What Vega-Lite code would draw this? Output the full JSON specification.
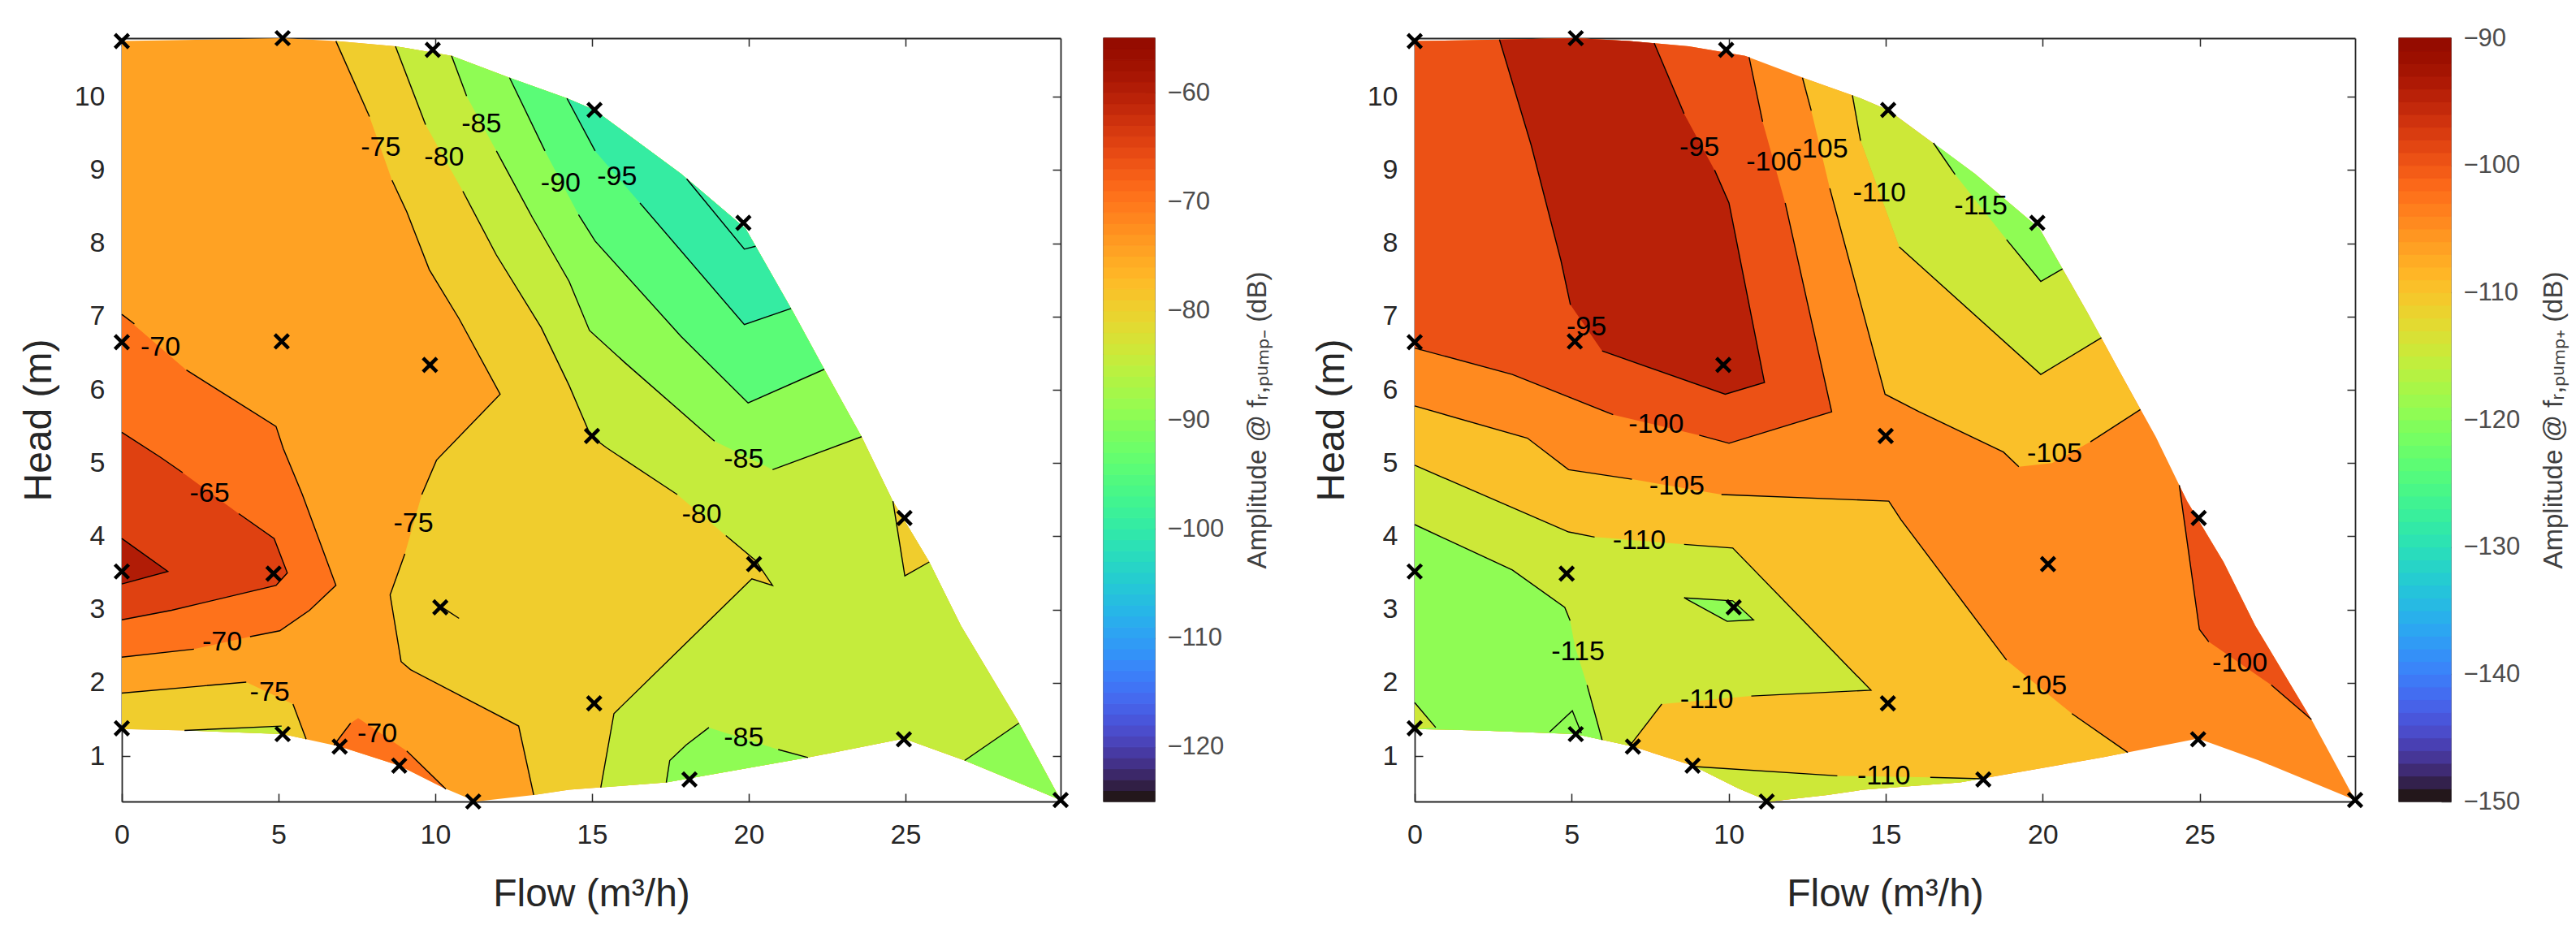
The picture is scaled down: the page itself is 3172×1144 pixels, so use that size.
{
"$schema": "https://vega.github.io/schema/vega-lite/v6.json",
"background": "white",
"padding": {"left": 24, "top": 29, "right": 5, "bottom": 5},
"config": {
  "view": {"stroke": null},
  "font": "Liberation Sans",
  "axis": {"grid": false, "domainColor": "#262626", "domainWidth": 1.8, "tickColor": "#262626", "tickWidth": 1.5, "tickSize": -10, "labelFont": "Liberation Sans", "labelFontSize": 34, "labelColor": "#262626", "labelFlush": false, "titleFont": "Liberation Sans", "titleFontSize": 48, "titleFontWeight": "normal", "titleColor": "#262626"}
},
"datasets": {
"pts": [
{"x":0,"y":10.76},{"x":5.13,"y":10.8},{"x":9.92,"y":10.64},{"x":15.08,"y":9.82},{"x":19.83,"y":8.28},{"x":0,"y":6.65},{"x":5.1,"y":6.66},{"x":9.83,"y":6.34},{"x":15.0,"y":5.37},{"x":20.17,"y":3.62},{"x":24.97,"y":4.25},{"x":0,"y":3.52},{"x":4.84,"y":3.49},{"x":10.16,"y":3.03},{"x":15.07,"y":1.72},{"x":0,"y":1.38},{"x":5.13,"y":1.3},{"x":6.95,"y":1.13},{"x":8.85,"y":0.87},{"x":11.21,"y":0.38},{"x":18.11,"y":0.68},{"x":24.95,"y":1.23},{"x":29.95,"y":0.4}
],
"Lf": [
{"g":"p00","i":0,"x":0,"y":1.37,"v":-75},{"g":"p00","i":1,"x":2.06,"y":1.35,"v":-75},{"g":"p00","i":2,"x":5.13,"y":1.3,"v":-75},{"g":"p00","i":3,"x":6.95,"y":1.13,"v":-75},{"g":"p00","i":4,"x":8.85,"y":0.87,"v":-75},{"g":"p00","i":5,"x":10.3,"y":0.56,"v":-75},{"g":"p00","i":6,"x":11.3,"y":0.38,"v":-75},{"g":"p00","i":7,"x":13.14,"y":0.47,"v":-75},{"g":"p00","i":8,"x":14.27,"y":0.54,"v":-75},{"g":"p00","i":9,"x":17.37,"y":0.64,"v":-75},{"g":"p00","i":10,"x":21.89,"y":0.98,"v":-75},{"g":"p00","i":11,"x":24.95,"y":1.24,"v":-75},{"g":"p00","i":12,"x":26.89,"y":0.94,"v":-75},{"g":"p00","i":13,"x":29.95,"y":0.4,"v":-75},{"g":"p00","i":14,"x":28.56,"y":1.5,"v":-75},{"g":"p00","i":15,"x":26.77,"y":2.78,"v":-75},{"g":"p00","i":16,"x":25.76,"y":3.65,"v":-75},{"g":"p00","i":17,"x":24.6,"y":4.48,"v":-75},{"g":"p00","i":18,"x":23.6,"y":5.36,"v":-75},{"g":"p00","i":19,"x":22.5,"y":6.21,"v":-75},{"g":"p00","i":20,"x":21.42,"y":7.06,"v":-75},{"g":"p00","i":21,"x":19.9,"y":8.2,"v":-75},{"g":"p00","i":22,"x":17.84,"y":8.95,"v":-75},{"g":"p00","i":23,"x":15.08,"y":9.82,"v":-75},{"g":"p00","i":24,"x":14.2,"y":9.98,"v":-75},{"g":"p00","i":25,"x":12.37,"y":10.26,"v":-75},{"g":"p00","i":26,"x":10.52,"y":10.56,"v":-75},{"g":"p00","i":27,"x":8.73,"y":10.69,"v":-75},{"g":"p00","i":28,"x":6.83,"y":10.76,"v":-75},{"g":"p00","i":29,"x":5.13,"y":10.8,"v":-75},{"g":"p00","i":30,"x":0,"y":10.76,"v":-75},
{"g":"p01","i":0,"x":6.83,"y":10.76,"v":-80},{"g":"p01","i":1,"x":7.9,"y":9.73,"v":-80},{"g":"p01","i":2,"x":8.62,"y":8.86,"v":-80},{"g":"p01","i":3,"x":9.09,"y":8.43,"v":-80},{"g":"p01","i":4,"x":9.81,"y":7.64,"v":-80},{"g":"p01","i":5,"x":10.76,"y":6.97,"v":-80},{"g":"p01","i":6,"x":12.07,"y":5.94,"v":-80},{"g":"p01","i":7,"x":10.04,"y":5.04,"v":-80},{"g":"p01","i":8,"x":9.57,"y":4.57,"v":-80},{"g":"p01","i":9,"x":9.03,"y":3.76,"v":-80},{"g":"p01","i":10,"x":8.56,"y":3.2,"v":-80},{"g":"p01","i":11,"x":8.91,"y":2.29,"v":-80},{"g":"p01","i":12,"x":9.21,"y":2.18,"v":-80},{"g":"p01","i":13,"x":12.66,"y":1.41,"v":-80},{"g":"p01","i":14,"x":13.14,"y":0.47,"v":-80},{"g":"p01","i":15,"x":14.27,"y":0.54,"v":-80},{"g":"p01","i":16,"x":17.37,"y":0.64,"v":-80},{"g":"p01","i":17,"x":21.89,"y":0.98,"v":-80},{"g":"p01","i":18,"x":24.95,"y":1.24,"v":-80},{"g":"p01","i":19,"x":26.89,"y":0.94,"v":-80},{"g":"p01","i":20,"x":29.95,"y":0.4,"v":-80},{"g":"p01","i":21,"x":28.56,"y":1.5,"v":-80},{"g":"p01","i":22,"x":26.77,"y":2.78,"v":-80},{"g":"p01","i":23,"x":25.76,"y":3.65,"v":-80},{"g":"p01","i":24,"x":24.6,"y":4.48,"v":-80},{"g":"p01","i":25,"x":23.6,"y":5.36,"v":-80},{"g":"p01","i":26,"x":22.5,"y":6.21,"v":-80},{"g":"p01","i":27,"x":21.42,"y":7.06,"v":-80},{"g":"p01","i":28,"x":19.9,"y":8.2,"v":-80},{"g":"p01","i":29,"x":17.84,"y":8.95,"v":-80},{"g":"p01","i":30,"x":15.08,"y":9.82,"v":-80},{"g":"p01","i":31,"x":14.2,"y":9.98,"v":-80},{"g":"p01","i":32,"x":12.37,"y":10.26,"v":-80},{"g":"p01","i":33,"x":10.52,"y":10.56,"v":-80},{"g":"p01","i":34,"x":8.73,"y":10.69,"v":-80},
{"g":"p02","i":0,"x":8.73,"y":10.69,"v":-85},{"g":"p02","i":1,"x":9.69,"y":9.62,"v":-85},{"g":"p02","i":2,"x":10.88,"y":8.71,"v":-85},{"g":"p02","i":3,"x":11.95,"y":7.84,"v":-85},{"g":"p02","i":4,"x":13.38,"y":6.85,"v":-85},{"g":"p02","i":5,"x":14.27,"y":6.06,"v":-85},{"g":"p02","i":6,"x":14.96,"y":5.37,"v":-85},{"g":"p02","i":7,"x":15.46,"y":5.21,"v":-85},{"g":"p02","i":8,"x":17.72,"y":4.57,"v":-85},{"g":"p02","i":9,"x":19.27,"y":4.01,"v":-85},{"g":"p02","i":10,"x":20.22,"y":3.67,"v":-85},{"g":"p02","i":11,"x":20.76,"y":3.33,"v":-85},{"g":"p02","i":12,"x":20.1,"y":3.42,"v":-85},{"g":"p02","i":13,"x":15.7,"y":1.58,"v":-85},{"g":"p02","i":14,"x":15.28,"y":0.57,"v":-85},{"g":"p02","i":15,"x":17.37,"y":0.64,"v":-85},{"g":"p02","i":16,"x":21.89,"y":0.98,"v":-85},{"g":"p02","i":17,"x":24.95,"y":1.24,"v":-85},{"g":"p02","i":18,"x":26.89,"y":0.94,"v":-85},{"g":"p02","i":19,"x":29.95,"y":0.4,"v":-85},{"g":"p02","i":20,"x":28.56,"y":1.5,"v":-85},{"g":"p02","i":21,"x":26.77,"y":2.78,"v":-85},{"g":"p02","i":22,"x":25.76,"y":3.65,"v":-85},{"g":"p02","i":23,"x":24.6,"y":4.48,"v":-85},{"g":"p02","i":24,"x":23.6,"y":5.36,"v":-85},{"g":"p02","i":25,"x":22.5,"y":6.21,"v":-85},{"g":"p02","i":26,"x":21.42,"y":7.06,"v":-85},{"g":"p02","i":27,"x":19.9,"y":8.2,"v":-85},{"g":"p02","i":28,"x":17.84,"y":8.95,"v":-85},{"g":"p02","i":29,"x":15.08,"y":9.82,"v":-85},{"g":"p02","i":30,"x":14.2,"y":9.98,"v":-85},{"g":"p02","i":31,"x":12.37,"y":10.26,"v":-85},{"g":"p02","i":32,"x":10.52,"y":10.56,"v":-85},
{"g":"p03","i":0,"x":24.6,"y":4.48,"v":-80},{"g":"p03","i":1,"x":24.98,"y":3.46,"v":-80},{"g":"p03","i":2,"x":25.76,"y":3.65,"v":-80},
{"g":"p04","i":0,"x":10.52,"y":10.56,"v":-90},{"g":"p04","i":1,"x":11.0,"y":10.01,"v":-90},{"g":"p04","i":2,"x":11.95,"y":9.26,"v":-90},{"g":"p04","i":3,"x":13.1,"y":8.35,"v":-90},{"g":"p04","i":4,"x":14.27,"y":7.48,"v":-90},{"g":"p04","i":5,"x":14.92,"y":6.81,"v":-90},{"g":"p04","i":6,"x":16.05,"y":6.37,"v":-90},{"g":"p04","i":7,"x":18.91,"y":5.3,"v":-90},{"g":"p04","i":8,"x":20.76,"y":4.91,"v":-90},{"g":"p04","i":9,"x":23.6,"y":5.36,"v":-90},{"g":"p04","i":10,"x":22.5,"y":6.21,"v":-90},{"g":"p04","i":11,"x":21.42,"y":7.06,"v":-90},{"g":"p04","i":12,"x":19.9,"y":8.2,"v":-90},{"g":"p04","i":13,"x":17.84,"y":8.95,"v":-90},{"g":"p04","i":14,"x":15.08,"y":9.82,"v":-90},{"g":"p04","i":15,"x":14.2,"y":9.98,"v":-90},{"g":"p04","i":16,"x":12.37,"y":10.26,"v":-90},
{"g":"p05","i":0,"x":12.37,"y":10.26,"v":-95},{"g":"p05","i":1,"x":13.5,"y":9.26,"v":-95},{"g":"p05","i":2,"x":14.57,"y":8.39,"v":-95},{"g":"p05","i":3,"x":15.1,"y":8.03,"v":-95},{"g":"p05","i":4,"x":17.84,"y":6.73,"v":-95},{"g":"p05","i":5,"x":19.98,"y":5.82,"v":-95},{"g":"p05","i":6,"x":22.41,"y":6.28,"v":-95},{"g":"p05","i":7,"x":21.42,"y":7.06,"v":-95},{"g":"p05","i":8,"x":19.9,"y":8.2,"v":-95},{"g":"p05","i":9,"x":17.84,"y":8.95,"v":-95},{"g":"p05","i":10,"x":15.08,"y":9.82,"v":-95},{"g":"p05","i":11,"x":14.2,"y":9.98,"v":-95},
{"g":"p06","i":0,"x":14.2,"y":9.98,"v":-100},{"g":"p06","i":1,"x":15.1,"y":9.26,"v":-100},{"g":"p06","i":2,"x":16.53,"y":8.55,"v":-100},{"g":"p06","i":3,"x":19.86,"y":6.89,"v":-100},{"g":"p06","i":4,"x":21.35,"y":7.11,"v":-100},{"g":"p06","i":5,"x":19.9,"y":8.2,"v":-100},{"g":"p06","i":6,"x":17.84,"y":8.95,"v":-100},{"g":"p06","i":7,"x":15.08,"y":9.82,"v":-100},
{"g":"p07","i":0,"x":17.37,"y":0.64,"v":-90},{"g":"p07","i":1,"x":17.48,"y":0.94,"v":-90},{"g":"p07","i":2,"x":18.0,"y":1.15,"v":-90},{"g":"p07","i":3,"x":18.73,"y":1.39,"v":-90},{"g":"p07","i":4,"x":20.94,"y":1.09,"v":-90},{"g":"p07","i":5,"x":21.89,"y":0.98,"v":-90},
{"g":"p08","i":0,"x":26.89,"y":0.94,"v":-90},{"g":"p08","i":1,"x":28.62,"y":1.45,"v":-90},{"g":"p08","i":2,"x":29.95,"y":0.4,"v":-90},
{"g":"p09","i":0,"x":0,"y":7.03,"v":-70},{"g":"p09","i":1,"x":2.06,"y":6.27,"v":-70},{"g":"p09","i":2,"x":4.92,"y":5.5,"v":-70},{"g":"p09","i":3,"x":5.15,"y":5.2,"v":-70},{"g":"p09","i":4,"x":5.76,"y":4.57,"v":-70},{"g":"p09","i":5,"x":6.83,"y":3.33,"v":-70},{"g":"p09","i":6,"x":5.99,"y":2.99,"v":-70},{"g":"p09","i":7,"x":5.04,"y":2.71,"v":-70},{"g":"p09","i":8,"x":4.09,"y":2.63,"v":-70},{"g":"p09","i":9,"x":2.3,"y":2.46,"v":-70},{"g":"p09","i":10,"x":0,"y":2.35,"v":-70},
{"g":"p10","i":0,"x":0,"y":5.42,"v":-65},{"g":"p10","i":1,"x":1.23,"y":5.08,"v":-65},{"g":"p10","i":2,"x":1.94,"y":4.87,"v":-65},{"g":"p10","i":3,"x":3.73,"y":4.31,"v":-65},{"g":"p10","i":4,"x":4.86,"y":3.97,"v":-65},{"g":"p10","i":5,"x":5.28,"y":3.5,"v":-65},{"g":"p10","i":6,"x":4.92,"y":3.33,"v":-65},{"g":"p10","i":7,"x":1.59,"y":2.99,"v":-65},{"g":"p10","i":8,"x":0,"y":2.86,"v":-65},
{"g":"p11","i":0,"x":0,"y":3.97,"v":-60},{"g":"p11","i":1,"x":1.47,"y":3.52,"v":-60},{"g":"p11","i":2,"x":0,"y":3.35,"v":-60},
{"g":"p12","i":0,"x":0,"y":1.86,"v":-80},{"g":"p12","i":1,"x":3.97,"y":2.01,"v":-80},{"g":"p12","i":2,"x":5.46,"y":1.71,"v":-80},{"g":"p12","i":3,"x":5.88,"y":1.23,"v":-80},{"g":"p12","i":4,"x":5.13,"y":1.3,"v":-80},{"g":"p12","i":5,"x":2.06,"y":1.35,"v":-80},{"g":"p12","i":6,"x":0,"y":1.37,"v":-80},
{"g":"p13","i":0,"x":6.77,"y":1.15,"v":-70},{"g":"p13","i":1,"x":7.3,"y":1.45,"v":-70},{"g":"p13","i":2,"x":7.54,"y":1.52,"v":-70},{"g":"p13","i":3,"x":9.09,"y":1.07,"v":-70},{"g":"p13","i":4,"x":10.34,"y":0.55,"v":-70},{"g":"p13","i":5,"x":8.85,"y":0.87,"v":-70},{"g":"p13","i":6,"x":6.95,"y":1.13,"v":-70},
{"g":"p14","i":0,"x":2.0,"y":1.35,"v":-85},{"g":"p14","i":1,"x":5.1,"y":1.41,"v":-85},{"g":"p14","i":2,"x":5.13,"y":1.3,"v":-85}
],
"Ll": [
{"g":"l01","i":0,"x":6.83,"y":10.76},{"g":"l01","i":1,"x":7.9,"y":9.73},
{"g":"l02","i":0,"x":8.62,"y":8.86},{"g":"l02","i":1,"x":9.09,"y":8.43},{"g":"l02","i":2,"x":9.81,"y":7.64},{"g":"l02","i":3,"x":10.76,"y":6.97},{"g":"l02","i":4,"x":12.07,"y":5.94},{"g":"l02","i":5,"x":10.04,"y":5.04},{"g":"l02","i":6,"x":9.57,"y":4.57},
{"g":"l03","i":0,"x":9.03,"y":3.76},{"g":"l03","i":1,"x":8.56,"y":3.2},{"g":"l03","i":2,"x":8.91,"y":2.29},{"g":"l03","i":3,"x":9.21,"y":2.18},{"g":"l03","i":4,"x":12.66,"y":1.41},{"g":"l03","i":5,"x":13.14,"y":0.47},
{"g":"l04","i":0,"x":8.73,"y":10.69},{"g":"l04","i":1,"x":9.69,"y":9.62},
{"g":"l05","i":0,"x":10.88,"y":8.71},{"g":"l05","i":1,"x":11.95,"y":7.84},{"g":"l05","i":2,"x":13.38,"y":6.85},{"g":"l05","i":3,"x":14.27,"y":6.06},{"g":"l05","i":4,"x":14.96,"y":5.37},{"g":"l05","i":5,"x":15.46,"y":5.21},{"g":"l05","i":6,"x":17.72,"y":4.57},
{"g":"l06","i":0,"x":19.27,"y":4.01},{"g":"l06","i":1,"x":20.22,"y":3.67},{"g":"l06","i":2,"x":20.76,"y":3.33},{"g":"l06","i":3,"x":20.1,"y":3.42},{"g":"l06","i":4,"x":15.7,"y":1.58},{"g":"l06","i":5,"x":15.28,"y":0.57},
{"g":"l07","i":0,"x":10.52,"y":10.56},{"g":"l07","i":1,"x":11.0,"y":10.01},
{"g":"l08","i":0,"x":11.95,"y":9.26},{"g":"l08","i":1,"x":13.1,"y":8.35},{"g":"l08","i":2,"x":14.27,"y":7.48},{"g":"l08","i":3,"x":14.92,"y":6.81},{"g":"l08","i":4,"x":16.05,"y":6.37},{"g":"l08","i":5,"x":18.91,"y":5.3},
{"g":"l09","i":0,"x":20.76,"y":4.91},{"g":"l09","i":1,"x":23.6,"y":5.36},
{"g":"l10","i":0,"x":12.37,"y":10.26},{"g":"l10","i":1,"x":13.5,"y":9.26},
{"g":"l11","i":0,"x":14.57,"y":8.39},{"g":"l11","i":1,"x":15.1,"y":8.03},{"g":"l11","i":2,"x":17.84,"y":6.73},{"g":"l11","i":3,"x":19.98,"y":5.82},{"g":"l11","i":4,"x":22.41,"y":6.28},
{"g":"l12","i":0,"x":14.2,"y":9.98},{"g":"l12","i":1,"x":15.1,"y":9.26},
{"g":"l13","i":0,"x":16.53,"y":8.55},{"g":"l13","i":1,"x":19.86,"y":6.89},{"g":"l13","i":2,"x":21.35,"y":7.11},
{"g":"l14","i":0,"x":18.02,"y":8.88},{"g":"l14","i":1,"x":19.86,"y":7.92},{"g":"l14","i":2,"x":20.22,"y":7.96},
{"g":"l15","i":0,"x":0,"y":7.03},{"g":"l15","i":1,"x":0.4,"y":6.9},
{"g":"l16","i":0,"x":2.06,"y":6.27},{"g":"l16","i":1,"x":4.92,"y":5.5},{"g":"l16","i":2,"x":5.15,"y":5.2},{"g":"l16","i":3,"x":5.76,"y":4.57},{"g":"l16","i":4,"x":6.83,"y":3.33},{"g":"l16","i":5,"x":5.99,"y":2.99},{"g":"l16","i":6,"x":5.04,"y":2.71},{"g":"l16","i":7,"x":4.09,"y":2.63},
{"g":"l17","i":0,"x":2.3,"y":2.46},{"g":"l17","i":1,"x":0,"y":2.35},
{"g":"l18","i":0,"x":0,"y":5.42},{"g":"l18","i":1,"x":1.23,"y":5.08},{"g":"l18","i":2,"x":1.94,"y":4.87},
{"g":"l19","i":0,"x":3.73,"y":4.31},{"g":"l19","i":1,"x":4.86,"y":3.97},{"g":"l19","i":2,"x":5.28,"y":3.5},{"g":"l19","i":3,"x":4.92,"y":3.33},{"g":"l19","i":4,"x":1.59,"y":2.99},{"g":"l19","i":5,"x":0,"y":2.86},
{"g":"l20","i":0,"x":0,"y":3.97},{"g":"l20","i":1,"x":1.47,"y":3.52},{"g":"l20","i":2,"x":0,"y":3.35},
{"g":"l21","i":0,"x":0,"y":1.86},{"g":"l21","i":1,"x":3.97,"y":2.01},
{"g":"l22","i":0,"x":5.46,"y":1.71},{"g":"l22","i":1,"x":5.88,"y":1.23},
{"g":"l23","i":0,"x":6.77,"y":1.15},{"g":"l23","i":1,"x":7.3,"y":1.45},
{"g":"l24","i":0,"x":9.09,"y":1.07},{"g":"l24","i":1,"x":10.34,"y":0.55},
{"g":"l25","i":0,"x":2.0,"y":1.35},{"g":"l25","i":1,"x":5.1,"y":1.41},
{"g":"l26","i":0,"x":24.6,"y":4.48},{"g":"l26","i":1,"x":24.98,"y":3.46},{"g":"l26","i":2,"x":25.76,"y":3.65},
{"g":"l27","i":0,"x":17.37,"y":0.64},{"g":"l27","i":1,"x":17.48,"y":0.94},{"g":"l27","i":2,"x":18.0,"y":1.15},{"g":"l27","i":3,"x":18.73,"y":1.39},
{"g":"l28","i":0,"x":20.94,"y":1.09},{"g":"l28","i":1,"x":21.89,"y":0.98},
{"g":"l29","i":0,"x":26.89,"y":0.94},{"g":"l29","i":1,"x":28.62,"y":1.45},
{"g":"l30","i":0,"x":10.22,"y":3.03},{"g":"l30","i":1,"x":10.76,"y":2.88}
],
"Lt": [
{"t":"-75","x":8.26,"y":9.3},{"t":"-80","x":10.28,"y":9.17},{"t":"-85","x":11.47,"y":9.63},{"t":"-90","x":14.0,"y":8.82},{"t":"-95","x":15.8,"y":8.9},{"t":"-70","x":1.23,"y":6.58},{"t":"-65","x":2.8,"y":4.58},{"t":"-70","x":3.2,"y":2.55},{"t":"-75","x":4.72,"y":1.86},{"t":"-75","x":9.3,"y":4.17},{"t":"-70","x":8.15,"y":1.3},{"t":"-80","x":18.5,"y":4.29},{"t":"-85","x":19.84,"y":5.05},{"t":"-85","x":19.84,"y":1.24}
],
"Rf": [
{"g":"q00","i":0,"x":0,"y":1.37,"v":-105},{"g":"q00","i":1,"x":2.06,"y":1.35,"v":-105},{"g":"q00","i":2,"x":5.13,"y":1.3,"v":-105},{"g":"q00","i":3,"x":6.95,"y":1.13,"v":-105},{"g":"q00","i":4,"x":8.85,"y":0.87,"v":-105},{"g":"q00","i":5,"x":10.3,"y":0.56,"v":-105},{"g":"q00","i":6,"x":11.3,"y":0.38,"v":-105},{"g":"q00","i":7,"x":13.14,"y":0.47,"v":-105},{"g":"q00","i":8,"x":14.27,"y":0.54,"v":-105},{"g":"q00","i":9,"x":17.37,"y":0.64,"v":-105},{"g":"q00","i":10,"x":21.89,"y":0.98,"v":-105},{"g":"q00","i":11,"x":24.95,"y":1.24,"v":-105},{"g":"q00","i":12,"x":26.89,"y":0.94,"v":-105},{"g":"q00","i":13,"x":29.95,"y":0.4,"v":-105},{"g":"q00","i":14,"x":28.56,"y":1.5,"v":-105},{"g":"q00","i":15,"x":26.77,"y":2.78,"v":-105},{"g":"q00","i":16,"x":25.76,"y":3.65,"v":-105},{"g":"q00","i":17,"x":24.6,"y":4.48,"v":-105},{"g":"q00","i":18,"x":23.6,"y":5.36,"v":-105},{"g":"q00","i":19,"x":22.5,"y":6.21,"v":-105},{"g":"q00","i":20,"x":21.42,"y":7.06,"v":-105},{"g":"q00","i":21,"x":19.9,"y":8.2,"v":-105},{"g":"q00","i":22,"x":17.84,"y":8.95,"v":-105},{"g":"q00","i":23,"x":15.08,"y":9.82,"v":-105},{"g":"q00","i":24,"x":14.2,"y":9.98,"v":-105},{"g":"q00","i":25,"x":12.37,"y":10.26,"v":-105},{"g":"q00","i":26,"x":10.52,"y":10.56,"v":-105},{"g":"q00","i":27,"x":8.73,"y":10.69,"v":-105},{"g":"q00","i":28,"x":6.83,"y":10.76,"v":-105},{"g":"q00","i":29,"x":5.13,"y":10.8,"v":-105},{"g":"q00","i":30,"x":0,"y":10.76,"v":-105},
{"g":"q01","i":0,"x":10.65,"y":10.54,"v":-100},{"g":"q01","i":1,"x":11.08,"y":9.66,"v":-100},{"g":"q01","i":2,"x":11.8,"y":8.55,"v":-100},{"g":"q01","i":3,"x":13.28,"y":5.7,"v":-100},{"g":"q01","i":4,"x":10.01,"y":5.27,"v":-100},{"g":"q01","i":5,"x":9.06,"y":5.38,"v":-100},{"g":"q01","i":6,"x":6.32,"y":5.66,"v":-100},{"g":"q01","i":7,"x":3.11,"y":6.21,"v":-100},{"g":"q01","i":8,"x":0,"y":6.57,"v":-100},{"g":"q01","i":9,"x":0,"y":10.76,"v":-100},{"g":"q01","i":10,"x":5.13,"y":10.8,"v":-100},{"g":"q01","i":11,"x":6.83,"y":10.76,"v":-100},{"g":"q01","i":12,"x":8.73,"y":10.69,"v":-100},{"g":"q01","i":13,"x":10.52,"y":10.56,"v":-100},
{"g":"q02","i":0,"x":2.7,"y":10.78,"v":-95},{"g":"q02","i":1,"x":3.71,"y":9.34,"v":-95},{"g":"q02","i":2,"x":4.66,"y":7.76,"v":-95},{"g":"q02","i":3,"x":4.96,"y":7.16,"v":-95},{"g":"q02","i":4,"x":5.97,"y":6.53,"v":-95},{"g":"q02","i":5,"x":9.89,"y":5.94,"v":-95},{"g":"q02","i":6,"x":11.14,"y":6.1,"v":-95},{"g":"q02","i":7,"x":10.01,"y":8.55,"v":-95},{"g":"q02","i":8,"x":9.55,"y":9.0,"v":-95},{"g":"q02","i":9,"x":8.58,"y":9.77,"v":-95},{"g":"q02","i":10,"x":7.63,"y":10.73,"v":-95},{"g":"q02","i":11,"x":6.83,"y":10.76,"v":-95},{"g":"q02","i":12,"x":5.13,"y":10.8,"v":-95},
{"g":"q03","i":0,"x":24.35,"y":4.7,"v":-100},{"g":"q03","i":1,"x":24.99,"y":2.73,"v":-100},{"g":"q03","i":2,"x":25.29,"y":2.56,"v":-100},{"g":"q03","i":3,"x":27.28,"y":1.97,"v":-100},{"g":"q03","i":4,"x":28.56,"y":1.5,"v":-100},{"g":"q03","i":5,"x":26.77,"y":2.78,"v":-100},{"g":"q03","i":6,"x":25.76,"y":3.65,"v":-100},{"g":"q03","i":7,"x":24.6,"y":4.48,"v":-100},
{"g":"q04","i":0,"x":0,"y":5.78,"v":-110},{"g":"q04","i":1,"x":3.59,"y":5.34,"v":-110},{"g":"q04","i":2,"x":4.9,"y":4.91,"v":-110},{"g":"q04","i":3,"x":6.92,"y":4.78,"v":-110},{"g":"q04","i":4,"x":9.77,"y":4.57,"v":-110},{"g":"q04","i":5,"x":15.1,"y":4.48,"v":-110},{"g":"q04","i":6,"x":15.48,"y":4.23,"v":-110},{"g":"q04","i":7,"x":18.85,"y":2.31,"v":-110},{"g":"q04","i":8,"x":20.93,"y":1.58,"v":-110},{"g":"q04","i":9,"x":22.71,"y":1.05,"v":-110},{"g":"q04","i":10,"x":21.89,"y":0.98,"v":-110},{"g":"q04","i":11,"x":17.37,"y":0.64,"v":-110},{"g":"q04","i":12,"x":14.27,"y":0.54,"v":-110},{"g":"q04","i":13,"x":13.14,"y":0.47,"v":-110},{"g":"q04","i":14,"x":11.3,"y":0.38,"v":-110},{"g":"q04","i":15,"x":10.3,"y":0.56,"v":-110},{"g":"q04","i":16,"x":8.85,"y":0.87,"v":-110},{"g":"q04","i":17,"x":6.95,"y":1.13,"v":-110},{"g":"q04","i":18,"x":5.13,"y":1.3,"v":-110},{"g":"q04","i":19,"x":2.06,"y":1.35,"v":-110},{"g":"q04","i":20,"x":0,"y":1.37,"v":-110},
{"g":"q05","i":0,"x":0,"y":4.97,"v":-115},{"g":"q05","i":1,"x":4.9,"y":4.06,"v":-115},{"g":"q05","i":2,"x":5.73,"y":3.99,"v":-115},{"g":"q05","i":3,"x":8.58,"y":3.89,"v":-115},{"g":"q05","i":4,"x":10.13,"y":3.84,"v":-115},{"g":"q05","i":5,"x":14.53,"y":1.9,"v":-115},{"g":"q05","i":6,"x":10.72,"y":1.82,"v":-115},{"g":"q05","i":7,"x":7.87,"y":1.71,"v":-115},{"g":"q05","i":8,"x":6.85,"y":1.14,"v":-115},{"g":"q05","i":9,"x":5.13,"y":1.3,"v":-115},{"g":"q05","i":10,"x":2.06,"y":1.35,"v":-115},{"g":"q05","i":11,"x":0,"y":1.37,"v":-115},
{"g":"q06","i":0,"x":8.82,"y":0.86,"v":-115},{"g":"q06","i":1,"x":13.46,"y":0.73,"v":-115},{"g":"q06","i":2,"x":16.42,"y":0.71,"v":-115},{"g":"q06","i":3,"x":18.05,"y":0.69,"v":-115},{"g":"q06","i":4,"x":17.37,"y":0.64,"v":-115},{"g":"q06","i":5,"x":14.27,"y":0.54,"v":-115},{"g":"q06","i":6,"x":13.14,"y":0.47,"v":-115},{"g":"q06","i":7,"x":11.3,"y":0.38,"v":-115},{"g":"q06","i":8,"x":10.3,"y":0.56,"v":-115},{"g":"q06","i":9,"x":8.85,"y":0.87,"v":-115},
{"g":"q07","i":0,"x":0,"y":4.16,"v":-120},{"g":"q07","i":1,"x":3.11,"y":3.54,"v":-120},{"g":"q07","i":2,"x":4.78,"y":3.03,"v":-120},{"g":"q07","i":3,"x":4.95,"y":2.85,"v":-120},{"g":"q07","i":4,"x":5.1,"y":2.5,"v":-120},{"g":"q07","i":5,"x":5.49,"y":1.97,"v":-120},{"g":"q07","i":6,"x":5.97,"y":1.22,"v":-120},{"g":"q07","i":7,"x":5.13,"y":1.3,"v":-120},{"g":"q07","i":8,"x":2.06,"y":1.35,"v":-120},{"g":"q07","i":9,"x":0,"y":1.37,"v":-120},
{"g":"q08","i":0,"x":8.58,"y":3.16,"v":-120},{"g":"q08","i":1,"x":10.13,"y":3.12,"v":-120},{"g":"q08","i":2,"x":10.79,"y":2.86,"v":-120},{"g":"q08","i":3,"x":9.95,"y":2.84,"v":-120},
{"g":"q09","i":0,"x":0,"y":1.73,"v":-115},{"g":"q09","i":1,"x":0.67,"y":1.39,"v":-115},{"g":"q09","i":2,"x":0,"y":1.37,"v":-115},
{"g":"q10","i":0,"x":12.35,"y":10.26,"v":-110},{"g":"q10","i":1,"x":12.63,"y":9.81,"v":-110},{"g":"q10","i":2,"x":13.22,"y":8.75,"v":-110},{"g":"q10","i":3,"x":14.98,"y":5.94,"v":-110},{"g":"q10","i":4,"x":16.07,"y":5.7,"v":-110},{"g":"q10","i":5,"x":18.75,"y":5.15,"v":-110},{"g":"q10","i":6,"x":19.24,"y":4.95,"v":-110},{"g":"q10","i":7,"x":20.3,"y":5.0,"v":-110},{"g":"q10","i":8,"x":21.52,"y":5.29,"v":-110},{"g":"q10","i":9,"x":23.11,"y":5.73,"v":-110},{"g":"q10","i":10,"x":22.5,"y":6.21,"v":-110},{"g":"q10","i":11,"x":21.87,"y":6.71,"v":-110},{"g":"q10","i":12,"x":19.94,"y":6.21,"v":-110},{"g":"q10","i":13,"x":15.43,"y":7.95,"v":-110},{"g":"q10","i":14,"x":14.2,"y":9.4,"v":-110},{"g":"q10","i":15,"x":13.94,"y":10.02,"v":-110},
{"g":"q11","i":0,"x":13.94,"y":10.02,"v":-115},{"g":"q11","i":1,"x":14.2,"y":9.4,"v":-115},{"g":"q11","i":2,"x":15.43,"y":7.95,"v":-115},{"g":"q11","i":3,"x":19.94,"y":6.21,"v":-115},{"g":"q11","i":4,"x":21.87,"y":6.71,"v":-115},{"g":"q11","i":5,"x":21.42,"y":7.06,"v":-115},{"g":"q11","i":6,"x":19.9,"y":8.2,"v":-115},{"g":"q11","i":7,"x":17.84,"y":8.95,"v":-115},{"g":"q11","i":8,"x":15.08,"y":9.82,"v":-115},{"g":"q11","i":9,"x":14.2,"y":9.98,"v":-115},
{"g":"q12","i":0,"x":16.52,"y":9.37,"v":-120},{"g":"q12","i":1,"x":17.21,"y":8.94,"v":-120},{"g":"q12","i":2,"x":18.85,"y":8.05,"v":-120},{"g":"q12","i":3,"x":19.94,"y":7.48,"v":-120},{"g":"q12","i":4,"x":20.63,"y":7.65,"v":-120},{"g":"q12","i":5,"x":19.9,"y":8.2,"v":-120},{"g":"q12","i":6,"x":17.84,"y":8.95,"v":-120}
],
"Rl": [
{"g":"m01","i":0,"x":2.7,"y":10.78},{"g":"m01","i":1,"x":3.71,"y":9.34},{"g":"m01","i":2,"x":4.66,"y":7.76},{"g":"m01","i":3,"x":4.96,"y":7.16},
{"g":"m02","i":0,"x":5.97,"y":6.53},{"g":"m02","i":1,"x":9.89,"y":5.94},{"g":"m02","i":2,"x":11.14,"y":6.1},{"g":"m02","i":3,"x":10.01,"y":8.55},{"g":"m02","i":4,"x":9.55,"y":9.0},
{"g":"m03","i":0,"x":8.58,"y":9.77},{"g":"m03","i":1,"x":7.63,"y":10.73},
{"g":"m04","i":0,"x":10.65,"y":10.54},{"g":"m04","i":1,"x":11.08,"y":9.66},
{"g":"m05","i":0,"x":11.8,"y":8.55},{"g":"m05","i":1,"x":13.28,"y":5.7},{"g":"m05","i":2,"x":10.01,"y":5.27},{"g":"m05","i":3,"x":9.06,"y":5.38},
{"g":"m06","i":0,"x":6.32,"y":5.66},{"g":"m06","i":1,"x":3.11,"y":6.21},{"g":"m06","i":2,"x":0,"y":6.57},
{"g":"m07","i":0,"x":24.35,"y":4.7},{"g":"m07","i":1,"x":24.99,"y":2.73},{"g":"m07","i":2,"x":25.29,"y":2.56},
{"g":"m08","i":0,"x":27.28,"y":1.97},{"g":"m08","i":1,"x":28.56,"y":1.5},
{"g":"m09","i":0,"x":12.35,"y":10.26},{"g":"m09","i":1,"x":12.63,"y":9.81},
{"g":"m10","i":0,"x":13.22,"y":8.75},{"g":"m10","i":1,"x":14.98,"y":5.94},{"g":"m10","i":2,"x":16.07,"y":5.7},{"g":"m10","i":3,"x":18.75,"y":5.15},{"g":"m10","i":4,"x":19.24,"y":4.95},
{"g":"m11","i":0,"x":21.52,"y":5.29},{"g":"m11","i":1,"x":23.11,"y":5.73},
{"g":"m12","i":0,"x":0,"y":5.78},{"g":"m12","i":1,"x":3.59,"y":5.34},{"g":"m12","i":2,"x":4.9,"y":4.91},{"g":"m12","i":3,"x":6.92,"y":4.78},
{"g":"m13","i":0,"x":9.77,"y":4.57},{"g":"m13","i":1,"x":15.1,"y":4.48},{"g":"m13","i":2,"x":15.48,"y":4.23},{"g":"m13","i":3,"x":18.85,"y":2.31},
{"g":"m14","i":0,"x":20.93,"y":1.58},{"g":"m14","i":1,"x":22.71,"y":1.05},
{"g":"m15","i":0,"x":13.94,"y":10.02},{"g":"m15","i":1,"x":14.2,"y":9.4},
{"g":"m16","i":0,"x":15.43,"y":7.95},{"g":"m16","i":1,"x":19.94,"y":6.21},{"g":"m16","i":2,"x":21.87,"y":6.71},
{"g":"m17","i":0,"x":0,"y":4.97},{"g":"m17","i":1,"x":4.9,"y":4.06},{"g":"m17","i":2,"x":5.73,"y":3.99},
{"g":"m18","i":0,"x":8.58,"y":3.89},{"g":"m18","i":1,"x":10.13,"y":3.84},{"g":"m18","i":2,"x":14.53,"y":1.9},{"g":"m18","i":3,"x":10.72,"y":1.82},
{"g":"m19","i":0,"x":7.87,"y":1.71},{"g":"m19","i":1,"x":6.85,"y":1.14},
{"g":"m20","i":0,"x":8.82,"y":0.86},{"g":"m20","i":1,"x":13.46,"y":0.73},
{"g":"m21","i":0,"x":16.42,"y":0.71},{"g":"m21","i":1,"x":18.05,"y":0.69},
{"g":"m22","i":0,"x":0,"y":4.16},{"g":"m22","i":1,"x":3.11,"y":3.54},{"g":"m22","i":2,"x":4.78,"y":3.03},{"g":"m22","i":3,"x":4.95,"y":2.85},
{"g":"m23","i":0,"x":5.49,"y":1.97},{"g":"m23","i":1,"x":5.97,"y":1.22},
{"g":"m24","i":0,"x":8.58,"y":3.16},{"g":"m24","i":1,"x":10.13,"y":3.12},{"g":"m24","i":2,"x":10.79,"y":2.86},{"g":"m24","i":3,"x":9.95,"y":2.84},{"g":"m24","i":4,"x":8.58,"y":3.16},
{"g":"m25","i":0,"x":16.52,"y":9.37},{"g":"m25","i":1,"x":17.21,"y":8.94},
{"g":"m26","i":0,"x":18.85,"y":8.05},{"g":"m26","i":1,"x":19.94,"y":7.48},{"g":"m26","i":2,"x":20.63,"y":7.65},
{"g":"m27","i":0,"x":0,"y":1.73},{"g":"m27","i":1,"x":0.67,"y":1.39},
{"g":"m28","i":0,"x":4.3,"y":1.33},{"g":"m28","i":1,"x":5.02,"y":1.62},{"g":"m28","i":2,"x":5.31,"y":1.31}
],
"Rt": [
{"t":"-95","x":5.47,"y":6.85},{"t":"-95","x":9.07,"y":9.3},{"t":"-100","x":11.44,"y":9.1},{"t":"-100","x":7.69,"y":5.52},{"t":"-100","x":26.28,"y":2.27},{"t":"-105","x":12.92,"y":9.28},{"t":"-105","x":20.38,"y":5.12},{"t":"-105","x":8.35,"y":4.68},{"t":"-105","x":19.89,"y":1.95},{"t":"-110","x":14.8,"y":8.68},{"t":"-110","x":7.15,"y":3.94},{"t":"-110","x":9.3,"y":1.77},{"t":"-110","x":14.94,"y":0.72},{"t":"-115","x":5.2,"y":2.42},{"t":"-115","x":18.03,"y":8.5}
],
"Lc": [
{"v":-125,"v2":-124},{"v":-124,"v2":-123},{"v":-123,"v2":-122},{"v":-122,"v2":-121},{"v":-121,"v2":-120},{"v":-120,"v2":-119},{"v":-119,"v2":-118},{"v":-118,"v2":-117},{"v":-117,"v2":-116},{"v":-116,"v2":-115},{"v":-115,"v2":-114},{"v":-114,"v2":-113},{"v":-113,"v2":-112},{"v":-112,"v2":-111},{"v":-111,"v2":-110},{"v":-110,"v2":-109},{"v":-109,"v2":-108},{"v":-108,"v2":-107},{"v":-107,"v2":-106},{"v":-106,"v2":-105},{"v":-105,"v2":-104},{"v":-104,"v2":-103},{"v":-103,"v2":-102},{"v":-102,"v2":-101},{"v":-101,"v2":-100},{"v":-100,"v2":-99},{"v":-99,"v2":-98},{"v":-98,"v2":-97},{"v":-97,"v2":-96},{"v":-96,"v2":-95},{"v":-95,"v2":-94},{"v":-94,"v2":-93},{"v":-93,"v2":-92},{"v":-92,"v2":-91},{"v":-91,"v2":-90},{"v":-90,"v2":-89},{"v":-89,"v2":-88},{"v":-88,"v2":-87},{"v":-87,"v2":-86},{"v":-86,"v2":-85},{"v":-85,"v2":-84},{"v":-84,"v2":-83},{"v":-83,"v2":-82},{"v":-82,"v2":-81},{"v":-81,"v2":-80},{"v":-80,"v2":-79},{"v":-79,"v2":-78},{"v":-78,"v2":-77},{"v":-77,"v2":-76},{"v":-76,"v2":-75},{"v":-75,"v2":-74},{"v":-74,"v2":-73},{"v":-73,"v2":-72},{"v":-72,"v2":-71},{"v":-71,"v2":-70},{"v":-70,"v2":-69},{"v":-69,"v2":-68},{"v":-68,"v2":-67},{"v":-67,"v2":-66},{"v":-66,"v2":-65},{"v":-65,"v2":-64},{"v":-64,"v2":-63},{"v":-63,"v2":-62},{"v":-62,"v2":-61},{"v":-61,"v2":-60},{"v":-60,"v2":-59},{"v":-59,"v2":-58},{"v":-58,"v2":-57},{"v":-57,"v2":-56},{"v":-56,"v2":-55}
],
"Rc": [
{"v":-150,"v2":-149},{"v":-149,"v2":-148},{"v":-148,"v2":-147},{"v":-147,"v2":-146},{"v":-146,"v2":-145},{"v":-145,"v2":-144},{"v":-144,"v2":-143},{"v":-143,"v2":-142},{"v":-142,"v2":-141},{"v":-141,"v2":-140},{"v":-140,"v2":-139},{"v":-139,"v2":-138},{"v":-138,"v2":-137},{"v":-137,"v2":-136},{"v":-136,"v2":-135},{"v":-135,"v2":-134},{"v":-134,"v2":-133},{"v":-133,"v2":-132},{"v":-132,"v2":-131},{"v":-131,"v2":-130},{"v":-130,"v2":-129},{"v":-129,"v2":-128},{"v":-128,"v2":-127},{"v":-127,"v2":-126},{"v":-126,"v2":-125},{"v":-125,"v2":-124},{"v":-124,"v2":-123},{"v":-123,"v2":-122},{"v":-122,"v2":-121},{"v":-121,"v2":-120},{"v":-120,"v2":-119},{"v":-119,"v2":-118},{"v":-118,"v2":-117},{"v":-117,"v2":-116},{"v":-116,"v2":-115},{"v":-115,"v2":-114},{"v":-114,"v2":-113},{"v":-113,"v2":-112},{"v":-112,"v2":-111},{"v":-111,"v2":-110},{"v":-110,"v2":-109},{"v":-109,"v2":-108},{"v":-108,"v2":-107},{"v":-107,"v2":-106},{"v":-106,"v2":-105},{"v":-105,"v2":-104},{"v":-104,"v2":-103},{"v":-103,"v2":-102},{"v":-102,"v2":-101},{"v":-101,"v2":-100},{"v":-100,"v2":-99},{"v":-99,"v2":-98},{"v":-98,"v2":-97},{"v":-97,"v2":-96},{"v":-96,"v2":-95},{"v":-95,"v2":-94},{"v":-94,"v2":-93},{"v":-93,"v2":-92},{"v":-92,"v2":-91},{"v":-91,"v2":-90}
]
},
"spacing": 49,
"resolve": {"scale": {"fill": "independent", "stroke": "independent", "x": "independent", "y": "independent"}},
"hconcat": [
{
 "spacing": 33,
 "resolve": {"scale": {"x": "independent", "y": "independent"}},
 "hconcat": [
  {
   "width": 1156, "height": 940,
   "resolve": {"axis": {"x": "independent", "y": "independent"}},
   "layer": [
    {"data": {"name": "Lf"}, "mark": {"type": "line", "filled": true, "strokeWidth": 0},
     "encoding": {
      "x": {"field": "x", "type": "quantitative", "scale": {"domain": [0, 29.95], "nice": false, "zero": false}, "axis": {"orient": "bottom", "title": "Flow (m³/h)", "values": [0, 5, 10, 15, 20, 25], "labelPadding": 34, "titlePadding": 32}},
      "y": {"field": "y", "type": "quantitative", "scale": {"domain": [0.38, 10.8], "nice": false, "zero": false}, "axis": {"orient": "left", "title": "Head (m)", "values": [1, 2, 3, 4, 5, 6, 7, 8, 9, 10], "labelPadding": 31, "titlePadding": 19}},
      "detail": {"field": "g"},
      "order": {"field": "i", "type": "quantitative"},
      "fill": {"field": "v", "type": "quantitative", "scale": {"scheme": "turbo", "domain": [-125, -55]}, "legend": null}
     }},
    {"data": {"name": "Ll"}, "mark": {"type": "line", "stroke": "black", "strokeWidth": 1.4},
     "encoding": {
      "x": {"field": "x", "type": "quantitative", "scale": {"domain": [0, 29.95], "nice": false, "zero": false}, "axis": null},
      "y": {"field": "y", "type": "quantitative", "scale": {"domain": [0.38, 10.8], "nice": false, "zero": false}, "axis": null},
      "detail": {"field": "g"},
      "order": {"field": "i", "type": "quantitative"}
     }},
    {"data": {"name": "Lt"}, "mark": {"type": "text", "fontSize": 34, "font": "Liberation Sans", "color": "black", "align": "center", "baseline": "middle"},
     "encoding": {
      "x": {"field": "x", "type": "quantitative", "scale": {"domain": [0, 29.95], "nice": false, "zero": false}, "axis": null},
      "y": {"field": "y", "type": "quantitative", "scale": {"domain": [0.38, 10.8], "nice": false, "zero": false}, "axis": null},
      "text": {"field": "t"}
     }},
    {"data": {"name": "pts"}, "mark": {"type": "point", "shape": "M-1,-1L1,1M1,-1L-1,1", "filled": false, "color": "black", "stroke": "black", "strokeWidth": 4.5, "size": 290, "opacity": 1},
     "encoding": {
      "x": {"field": "x", "type": "quantitative", "scale": {"domain": [0, 29.95], "nice": false, "zero": false}, "axis": {"orient": "top", "labels": false, "title": null, "values": [0, 5, 10, 15, 20, 25]}},
      "y": {"field": "y", "type": "quantitative", "scale": {"domain": [0.38, 10.8], "nice": false, "zero": false}, "axis": {"orient": "right", "labels": false, "title": null, "values": [1, 2, 3, 4, 5, 6, 7, 8, 9, 10]}}
     }}
   ]
  },
  {
   "width": 63, "height": 940,
   "view": {"stroke": "#555555", "strokeWidth": 1.5},
   "data": {"name": "Lc"},
   "mark": {"type": "rect", "strokeWidth": 1},
   "encoding": {
    "x": {"datum": 0, "type": "quantitative", "scale": {"domain": [0, 1]}, "axis": null},
    "x2": {"datum": 1},
    "y": {"field": "v", "type": "quantitative", "scale": {"domain": [-125, -55], "nice": false, "zero": false}, "axis": {"orient": "right", "values": [-120, -110, -100, -90, -80, -70, -60], "tickSize": -12, "tickColor": "#4d4d4d", "domain": false, "labelPadding": 27, "labelFontSize": 31, "labelColor": "#4d4d4d", "title": "Amplitude @ fᵣ,ₚᵤₘₚ₋ (dB)", "titleAngle": 270, "titleBaseline": "top", "titleFontSize": 33, "titleColor": "#404040", "titlePadding": 26}},
    "y2": {"field": "v2"},
    "fill": {"field": "v", "type": "quantitative", "scale": {"scheme": "turbo", "domain": [-125, -55]}, "legend": null},
    "stroke": {"field": "v", "type": "quantitative", "scale": {"scheme": "turbo", "domain": [-125, -55]}, "legend": null}
   }
  }
 ]
},
{
 "spacing": 34,
 "resolve": {"scale": {"x": "independent", "y": "independent"}},
 "hconcat": [
  {
   "width": 1158, "height": 940,
   "resolve": {"axis": {"x": "independent", "y": "independent"}},
   "layer": [
    {"data": {"name": "Rf"}, "mark": {"type": "line", "filled": true, "strokeWidth": 0},
     "encoding": {
      "x": {"field": "x", "type": "quantitative", "scale": {"domain": [0, 29.95], "nice": false, "zero": false}, "axis": {"orient": "bottom", "title": "Flow (m³/h)", "values": [0, 5, 10, 15, 20, 25], "labelPadding": 34, "titlePadding": 32}},
      "y": {"field": "y", "type": "quantitative", "scale": {"domain": [0.38, 10.8], "nice": false, "zero": false}, "axis": {"orient": "left", "title": "Head (m)", "values": [1, 2, 3, 4, 5, 6, 7, 8, 9, 10], "labelPadding": 31, "titlePadding": 19}},
      "detail": {"field": "g"},
      "order": {"field": "i", "type": "quantitative"},
      "fill": {"field": "v", "type": "quantitative", "scale": {"scheme": "turbo", "domain": [-150, -90]}, "legend": null}
     }},
    {"data": {"name": "Rl"}, "mark": {"type": "line", "stroke": "black", "strokeWidth": 1.4},
     "encoding": {
      "x": {"field": "x", "type": "quantitative", "scale": {"domain": [0, 29.95], "nice": false, "zero": false}, "axis": null},
      "y": {"field": "y", "type": "quantitative", "scale": {"domain": [0.38, 10.8], "nice": false, "zero": false}, "axis": null},
      "detail": {"field": "g"},
      "order": {"field": "i", "type": "quantitative"}
     }},
    {"data": {"name": "Rt"}, "mark": {"type": "text", "fontSize": 34, "font": "Liberation Sans", "color": "black", "align": "center", "baseline": "middle"},
     "encoding": {
      "x": {"field": "x", "type": "quantitative", "scale": {"domain": [0, 29.95], "nice": false, "zero": false}, "axis": null},
      "y": {"field": "y", "type": "quantitative", "scale": {"domain": [0.38, 10.8], "nice": false, "zero": false}, "axis": null},
      "text": {"field": "t"}
     }},
    {"data": {"name": "pts"}, "mark": {"type": "point", "shape": "M-1,-1L1,1M1,-1L-1,1", "filled": false, "color": "black", "stroke": "black", "strokeWidth": 4.5, "size": 290, "opacity": 1},
     "encoding": {
      "x": {"field": "x", "type": "quantitative", "scale": {"domain": [0, 29.95], "nice": false, "zero": false}, "axis": {"orient": "top", "labels": false, "title": null, "values": [0, 5, 10, 15, 20, 25]}},
      "y": {"field": "y", "type": "quantitative", "scale": {"domain": [0.38, 10.8], "nice": false, "zero": false}, "axis": {"orient": "right", "labels": false, "title": null, "values": [1, 2, 3, 4, 5, 6, 7, 8, 9, 10]}}
     }}
   ]
  },
  {
   "width": 64, "height": 940,
   "view": {"stroke": "#555555", "strokeWidth": 1.5},
   "data": {"name": "Rc"},
   "mark": {"type": "rect", "strokeWidth": 1},
   "encoding": {
    "x": {"datum": 0, "type": "quantitative", "scale": {"domain": [0, 1]}, "axis": null},
    "x2": {"datum": 1},
    "y": {"field": "v", "type": "quantitative", "scale": {"domain": [-150, -90], "nice": false, "zero": false}, "axis": {"orient": "right", "values": [-150, -140, -130, -120, -110, -100, -90], "tickSize": -12, "tickColor": "#4d4d4d", "domain": false, "labelPadding": 27, "labelFontSize": 31, "labelColor": "#4d4d4d", "title": "Amplitude @ fᵣ,ₚᵤₘₚ₊ (dB)", "titleAngle": 270, "titleBaseline": "top", "titleFontSize": 33, "titleColor": "#404040", "titlePadding": 26}},
    "y2": {"field": "v2"},
    "fill": {"field": "v", "type": "quantitative", "scale": {"scheme": "turbo", "domain": [-150, -90]}, "legend": null},
    "stroke": {"field": "v", "type": "quantitative", "scale": {"scheme": "turbo", "domain": [-150, -90]}, "legend": null}
   }
  }
 ]
}
]
}
